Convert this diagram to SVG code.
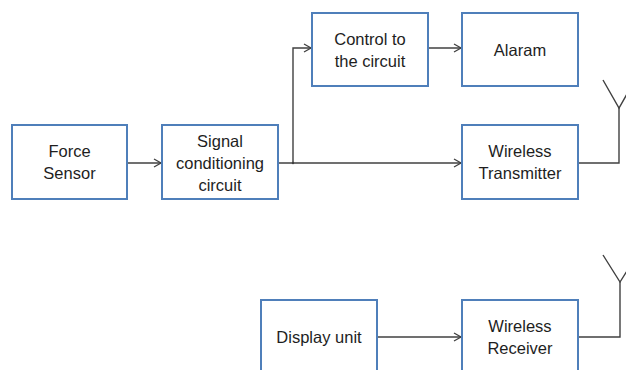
<svg xmlns="http://www.w3.org/2000/svg" width="626" height="370" viewBox="0 0 626 370">
<style>
.box{fill:#fff;stroke:#4f7fba;stroke-width:2}
.t{font-family:"Liberation Sans",Arial,sans-serif;font-size:16.5px;fill:#1e1e1e;text-anchor:middle}
.c{fill:none;stroke:#404040;stroke-width:1.4}
</style>
<defs>
<marker id="ah" markerWidth="10" markerHeight="10" refX="8" refY="5" orient="auto" markerUnits="userSpaceOnUse">
<path d="M1,1 L8,5 L1,9" fill="none" stroke="#404040" stroke-width="1.3"/>
</marker>
</defs>
<rect width="626" height="370" fill="#fff"/>
<g id="connectors">
<path class="c" d="M127,163 H161" marker-end="url(#ah)"/>
<path class="c" d="M278,163 H461" marker-end="url(#ah)"/>
<path class="c" d="M293,163 V48 H311" marker-end="url(#ah)"/>
<circle cx="293" cy="163" r="1.2" fill="#404040"/>
<path class="c" d="M428,48 H461" marker-end="url(#ah)"/>
<path class="c" d="M578,163 H619 V108"/>
<path class="c" d="M603,80 L619,108 L635,80"/>
<path class="c" d="M377,337 H461" marker-end="url(#ah)"/>
<path class="c" d="M578,337 H620 V282"/>
<path class="c" d="M603,255 L620,282 L637,255"/>
</g>
<g id="force-sensor">
<rect class="box" x="12" y="125" width="115" height="74"/>
<text class="t" x="69.5" y="157">Force</text>
<text class="t" x="69.5" y="179">Sensor</text>
</g>
<g id="signal-conditioning">
<rect class="box" x="162" y="125" width="116" height="74"/>
<text class="t" x="220" y="147">Signal</text>
<text class="t" x="220" y="169">conditioning</text>
<text class="t" x="220" y="191">circuit</text>
</g>
<g id="control">
<rect class="box" x="312" y="13" width="116" height="73"/>
<text class="t" x="370" y="45">Control to</text>
<text class="t" x="370" y="67">the circuit</text>
</g>
<g id="alaram">
<rect class="box" x="462" y="13" width="116" height="73"/>
<text class="t" x="520" y="56">Alaram</text>
</g>
<g id="wireless-transmitter">
<rect class="box" x="462" y="125" width="116" height="74"/>
<text class="t" x="520" y="157">Wireless</text>
<text class="t" x="520" y="179">Transmitter</text>
</g>
<g id="display-unit">
<rect class="box" x="261" y="300" width="116" height="80"/>
<text class="t" x="319" y="343">Display unit</text>
</g>
<g id="wireless-receiver">
<rect class="box" x="462" y="300" width="116" height="80"/>
<text class="t" x="520" y="332">Wireless</text>
<text class="t" x="520" y="354">Receiver</text>
</g>
</svg>
